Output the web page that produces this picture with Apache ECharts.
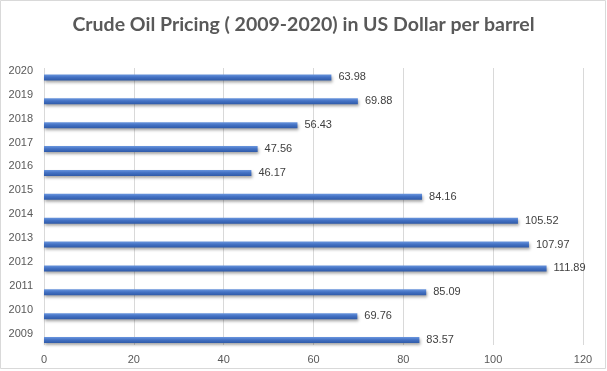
<!DOCTYPE html>
<html>
<head>
<meta charset="utf-8">
<script src="https://cdn.jsdelivr.net/npm/echarts@6/dist/echarts.min.js"></script>
<style>
html,body{margin:0;padding:0;background:#fff;}
#chart{width:607px;height:371px;}
</style>
</head>
<body>
<div id="chart"></div>
<script>
const titleText = 'Crude Oil Pricing ( 2009-2020) in US Dollar per barrel';
const years = ['2009','2010','2011','2012','2013','2014','2015','2016','2017','2018','2019','2020'];
const prices = [83.57, 69.76, 85.09, 111.89, 107.97, 105.52, 84.16, 46.17, 47.56, 56.43, 69.88, 63.98];
const xMin = 0, xMax = 120, xStep = 20;

const chart = echarts.init(document.getElementById('chart'), null, {renderer:'canvas'});
const option = {
  backgroundColor:'#ffffff',
  animation:false,
  title:{
    text:titleText,
    left:'center', top:10,
    textStyle:{fontFamily:'Lato', fontWeight:'bold', fontSize:19.5, color:'#595959'}
  },
  graphic:[{
    type:'rect', silent:true, z:-1,
    shape:{x:0.5,y:0.5,width:605,height:368},
    style:{fill:'none', stroke:'#d9d9d9', lineWidth:1}
  }],
  grid:[
    {left:44, right:24, top:65.5, bottom:19},
    {left:44, right:24, top:68, bottom:26}
  ],
  xAxis:[
    {gridIndex:0, type:'value', min:xMin, max:xMax, interval:xStep, show:false},
    {gridIndex:1, type:'value', min:xMin, max:xMax, interval:xStep,
     axisLine:{show:false}, axisTick:{show:false},
     splitLine:{show:true, lineStyle:{color:'#d9d9d9', width:1}},
     axisLabel:{color:'#595959', fontSize:11, fontFamily:'Liberation Sans', margin:9}}
  ],
  yAxis:[
    {gridIndex:0, type:'category', data:years,
     axisLine:{show:false}, axisTick:{show:false}, splitLine:{show:false},
     axisLabel:{color:'#595959', fontSize:11, fontFamily:'Liberation Sans', margin:11, verticalAlign:'bottom', lineHeight:13}},
    {gridIndex:1, type:'category', data:years, show:false}
  ],
  series:[{
    type:'bar', xAxisIndex:0, yAxisIndex:0,
    data:prices, barWidth:6,
    itemStyle:{
      color:new echarts.graphic.LinearGradient(0,0,0,1,[
        {offset:0,color:'#6a96de'},{offset:0.45,color:'#4472c4'},{offset:1,color:'#2f5aa8'}
      ]),
      shadowColor:'rgba(0,0,0,0.35)', shadowBlur:3, shadowOffsetX:1, shadowOffsetY:2
    },
    label:{show:true, position:'right', distance:7, color:'#404040', fontSize:11, fontFamily:'Liberation Sans',
      formatter:p=>p.value.toFixed(2)}
  }]
};
chart.setOption(option);
</script>
</body>
</html>
